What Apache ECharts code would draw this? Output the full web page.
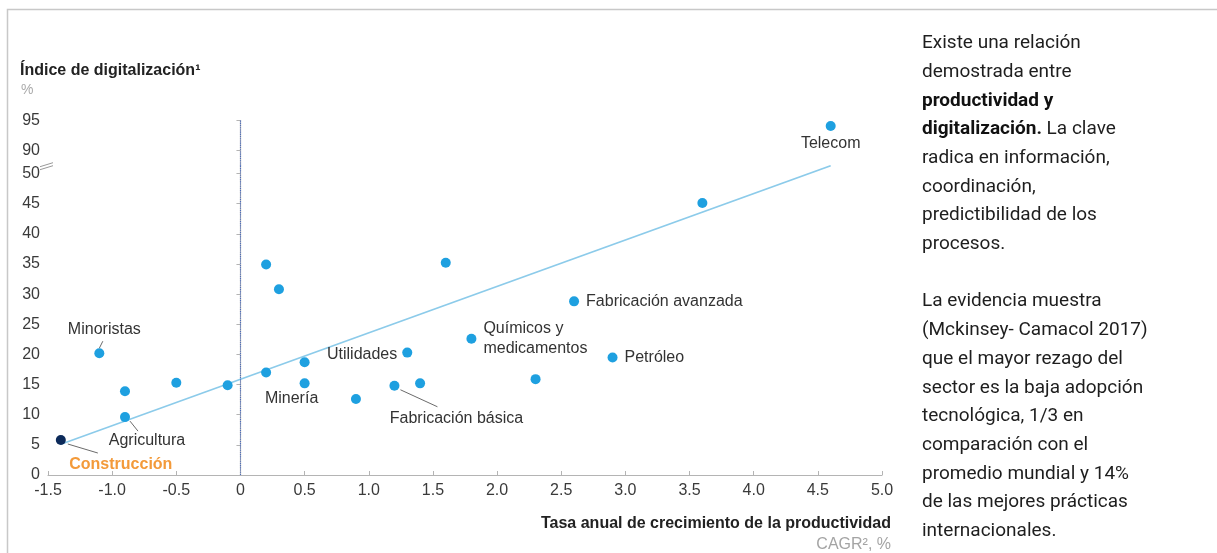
<!DOCTYPE html>
<html>
<head>
<meta charset="utf-8">
<script src="https://cdn.jsdelivr.net/npm/echarts@6/dist/echarts.min.js"></script>
<style>
  html, body { margin: 0; padding: 0; background: #fff; }
  #chart { width: 1217px; height: 553px; }
</style>
</head>
<body>
<div id="chart"></div>
<script>
// Sectors: annual productivity growth (CAGR, %) vs digitalisation index (%)
const sectorNames = [
  'Construcción', 'Minoristas', '', 'Agricultura', '', '', '', '', '', '',
  'Minería', '', 'Fabricación básica', '', 'Utilidades', '', 'Químicos y\nmedicamentos', '',
  'Fabricación avanzada', 'Petróleo', '', 'Telecom'
];
const productivityGrowth = [
  -1.4, -1.1, -0.9, -0.9, -0.5, -0.1, 0.2, 0.3, 0.2, 0.5,
  0.5, 0.9, 1.2, 1.4, 1.3, 1.6, 1.8, 2.3,
  2.6, 2.9, 3.6, 4.6
];
const digitalIndex = [
  5.8, 20.2, 13.9, 9.6, 15.3, 14.9, 34.9, 30.8, 17.0, 18.7,
  15.2, 12.6, 14.8, 15.2, 20.3, 35.2, 22.6, 15.9,
  28.8, 19.5, 45.1, 94.1
];

// Fitted trend line end points
const trendGrowth = [-1.4, 4.6];
const trendIndex = [5.1, 51.3];

// Tick labels
const xTicks = [-1.5, -1.0, -0.5, 0, 0.5, 1.0, 1.5, 2.0, 2.5, 3.0, 3.5, 4.0, 4.5, 5.0];
const yTicksLower = [0, 5, 10, 15, 20, 25, 30, 35, 40, 45, 50];
const yTicksUpper = [90, 95];

// Broken y axis: lower segment up to LOWER_MAX, upper segment from UPPER_MIN
const LOWER_MAX = 51.3;
const UPPER_MIN = 87.5;
const UPPER_MAX = 95;

// Plot layout
const GRID_LEFT = 48, GRID_RIGHT = 335;
const LOWER_TOP = 165.7, LOWER_BOTTOM = 78;
const UPPER_TOP = 120.5;

const FONT = '"Liberation Sans", Arial, sans-serif';
const DOT = '#1ea0e0';
const AXIS = '#b4b4b4';
const TICK_TEXT = '#3a3a3a';

// Label placement per named sector (offsets in px from the point centre);
// leader: guide line start/end relative to the point
const labelPlacement = {
  'Construcción': { position: 'inside', offset: [60, 24.5],
                    style: { color: '#f39a3a', fontWeight: 'bold' },
                    leader: [[7, 4], [37, 13]] },
  'Minoristas': { position: 'inside', offset: [5, -23.5], leader: [[0, -5], [3.5, -12]] },
  'Agricultura': { position: 'inside', offset: [22, 23.5], leader: [[5, 4], [13, 14]] },
  'Minería': { position: 'inside', offset: [-13, 15] },
  'Utilidades': { position: 'left', distance: 5, offset: [0, 2] },
  'Fabricación básica': { position: 'inside', offset: [62, 32.5], leader: [[6, 4], [43, 21]] },
  'Químicos y\nmedicamentos': { position: 'right', distance: 7, style: { lineHeight: 20 } },
  'Fabricación avanzada': { position: 'right', distance: 7 },
  'Petróleo': { position: 'right', distance: 7 },
  'Telecom': { position: 'bottom', distance: 5 }
};

function buildItems(keep) {
  const items = [];
  sectorNames.forEach((name, i) => {
    if (!keep(digitalIndex[i])) return;
    const item = { name: name, value: [productivityGrowth[i], digitalIndex[i]] };
    const p = labelPlacement[name];
    if (p) {
      item.label = Object.assign({
        show: true, formatter: '{b}', position: p.position,
        distance: p.distance != null ? p.distance : 5,
        offset: p.offset || [0, 0]
      }, p.style || {});
    }
    if (name === 'Construcción') item.itemStyle = { color: '#0c2a5a' };
    items.push(item);
  });
  return items;
}

const lowerItems = buildItems(v => v <= LOWER_MAX);
const upperItems = buildItems(v => v > LOWER_MAX);

const zeroLine = {
  silent: true, symbol: 'none',
  label: { show: false },
  lineStyle: { type: 'dotted', color: '#4a6cc0', width: 1.1 },
  data: [{ xAxis: 0 }]
};

const baseLabel = { show: false, formatter: '{b}', fontFamily: FONT, fontSize: 16, color: '#333' };

const xFormatter = v => (v === 0 ? '0' : v.toFixed(1));

const rightText = [
  'Existe una relación',
  'demostrada entre',
  '{b|productividad y}',
  '{b|digitalización.} La clave',
  'radica en información,',
  'coordinación,',
  'predictibilidad de los',
  'procesos.',
  '',
  'La evidencia muestra',
  '(Mckinsey- Camacol 2017)',
  'que el mayor rezago del',
  'sector es la baja adopción',
  'tecnológica, 1/3 en',
  'comparación con el',
  'promedio mundial y 14%',
  'de las mejores prácticas',
  'internacionales.'
].join('\n');

const chart = echarts.init(document.getElementById('chart'));

chart.setOption({
  animation: false,
  backgroundColor: '#fff',
  grid: [
    { left: GRID_LEFT, right: GRID_RIGHT, top: LOWER_TOP, bottom: LOWER_BOTTOM },
    { left: GRID_LEFT, right: GRID_RIGHT, top: UPPER_TOP, bottom: 553 - LOWER_TOP }
  ],
  xAxis: [
    {
      gridIndex: 0, type: 'value', min: -1.5, max: 5,
      axisLine: { show: true, lineStyle: { color: AXIS, width: 1.2 } },
      axisTick: { show: true, inside: true, length: 4, customValues: xTicks, lineStyle: { color: AXIS } },
      axisLabel: { customValues: xTicks, formatter: xFormatter, margin: 8,
                   fontFamily: FONT, fontSize: 16, color: TICK_TEXT },
      splitLine: { show: false }
    },
    { gridIndex: 1, type: 'value', min: -1.5, max: 5, show: false, splitLine: { show: false } }
  ],
  yAxis: [
    {
      gridIndex: 0, type: 'value', min: 0, max: LOWER_MAX,
      axisLine: { show: true, lineStyle: { color: AXIS, width: 1.2 } },
      axisTick: { show: true, length: 4, customValues: yTicksLower, lineStyle: { color: AXIS } },
      axisLabel: { customValues: yTicksLower, margin: 8, fontFamily: FONT, fontSize: 16, color: TICK_TEXT },
      splitLine: { show: false }
    },
    {
      gridIndex: 1, type: 'value', min: UPPER_MIN, max: UPPER_MAX,
      axisLine: { show: true, lineStyle: { color: AXIS, width: 1.2 } },
      axisTick: { show: true, length: 4, customValues: yTicksUpper, lineStyle: { color: AXIS } },
      axisLabel: { customValues: yTicksUpper, margin: 8, fontFamily: FONT, fontSize: 16, color: TICK_TEXT },
      splitLine: { show: false }
    }
  ],
  series: [
    {
      name: 'Tendencia', type: 'line', xAxisIndex: 0, yAxisIndex: 0,
      data: trendGrowth.map((x, i) => [x, trendIndex[i]]),
      symbol: 'none', silent: true, z: 1,
      lineStyle: { color: '#8ccbea', width: 1.6 }
    },
    {
      name: 'Sectores', type: 'scatter', xAxisIndex: 0, yAxisIndex: 0,
      symbolSize: 10, itemStyle: { color: DOT, opacity: 1 }, z: 3,
      label: baseLabel,
      data: lowerItems,
      markLine: zeroLine
    },
    {
      name: 'Sectores (tramo superior)', type: 'scatter', xAxisIndex: 1, yAxisIndex: 1,
      symbolSize: 10, itemStyle: { color: DOT, opacity: 1 }, z: 3,
      label: baseLabel,
      data: upperItems,
      markLine: zeroLine
    }
  ],
  graphic: [
    // frame
    { id: 'frame', type: 'polyline', x: 0, y: 0, silent: true,
      shape: { points: [[7.5, 553], [7.5, 9.5], [1217, 9.5]] },
      style: { stroke: '#c8c8c8', lineWidth: 1.5, fill: null } },
    // break marker where the two y segments meet
    { id: 'axisBreak', type: 'group', x: GRID_LEFT, y: LOWER_TOP, silent: true, z: 100,
      children: [
        { type: 'line', shape: { x1: -8, y1: 1, x2: 5, y2: -3 }, style: { stroke: '#999', lineWidth: 1 } },
        { type: 'line', shape: { x1: -8, y1: 4, x2: 5, y2: 0 }, style: { stroke: '#999', lineWidth: 1 } }
      ] },
    // y axis title
    { id: 'yTitle', type: 'text', x: 20, y: 63, silent: true,
      style: { text: 'Índice de digitalización¹', font: 'bold 16px ' + FONT, fill: '#222' } },
    { id: 'yUnit', type: 'text', x: 21, y: 83, silent: true,
      style: { text: '%', font: '14px ' + FONT, fill: '#aaa' } },
    // x axis title
    { id: 'xTitle', type: 'text', x: 891, y: 516, silent: true,
      style: { text: 'Tasa anual de crecimiento de la productividad', font: 'bold 16px ' + FONT,
               fill: '#222', align: 'right' } },
    { id: 'xUnit', type: 'text', x: 891, y: 537, silent: true,
      style: { text: 'CAGR², %', font: '16px ' + FONT, fill: '#a4a4a4', align: 'right' } },
    // commentary
    { id: 'notes', type: 'text', x: 922, y: 29, silent: true,
      style: {
        text: rightText, fontFamily: 'Roboto, sans-serif', fontSize: 19, lineHeight: 28.7,
        fill: '#1e1e1e',
        rich: { b: { fontFamily: 'Roboto, sans-serif', fontSize: 19, fontWeight: 'bold',
                     lineHeight: 28.7, fill: '#111' } }
      } }
  ]
});

// Guide lines from labelled points to their labels
const leaders = [];
sectorNames.forEach((name, i) => {
  const p = labelPlacement[name];
  if (!p || !p.leader) return;
  const seriesIndex = digitalIndex[i] <= LOWER_MAX ? 1 : 2;
  const c = chart.convertToPixel({ seriesIndex: seriesIndex },
                                 [productivityGrowth[i], digitalIndex[i]]);
  leaders.push({
    id: 'leader-' + i, type: 'line', silent: true, z: 100,
    shape: { x1: c[0] + p.leader[0][0], y1: c[1] + p.leader[0][1],
             x2: c[0] + p.leader[1][0], y2: c[1] + p.leader[1][1] },
    style: { stroke: '#6b6b6b', lineWidth: 1 }
  });
});
chart.setOption({ graphic: leaders });
</script>
</body>
</html>
